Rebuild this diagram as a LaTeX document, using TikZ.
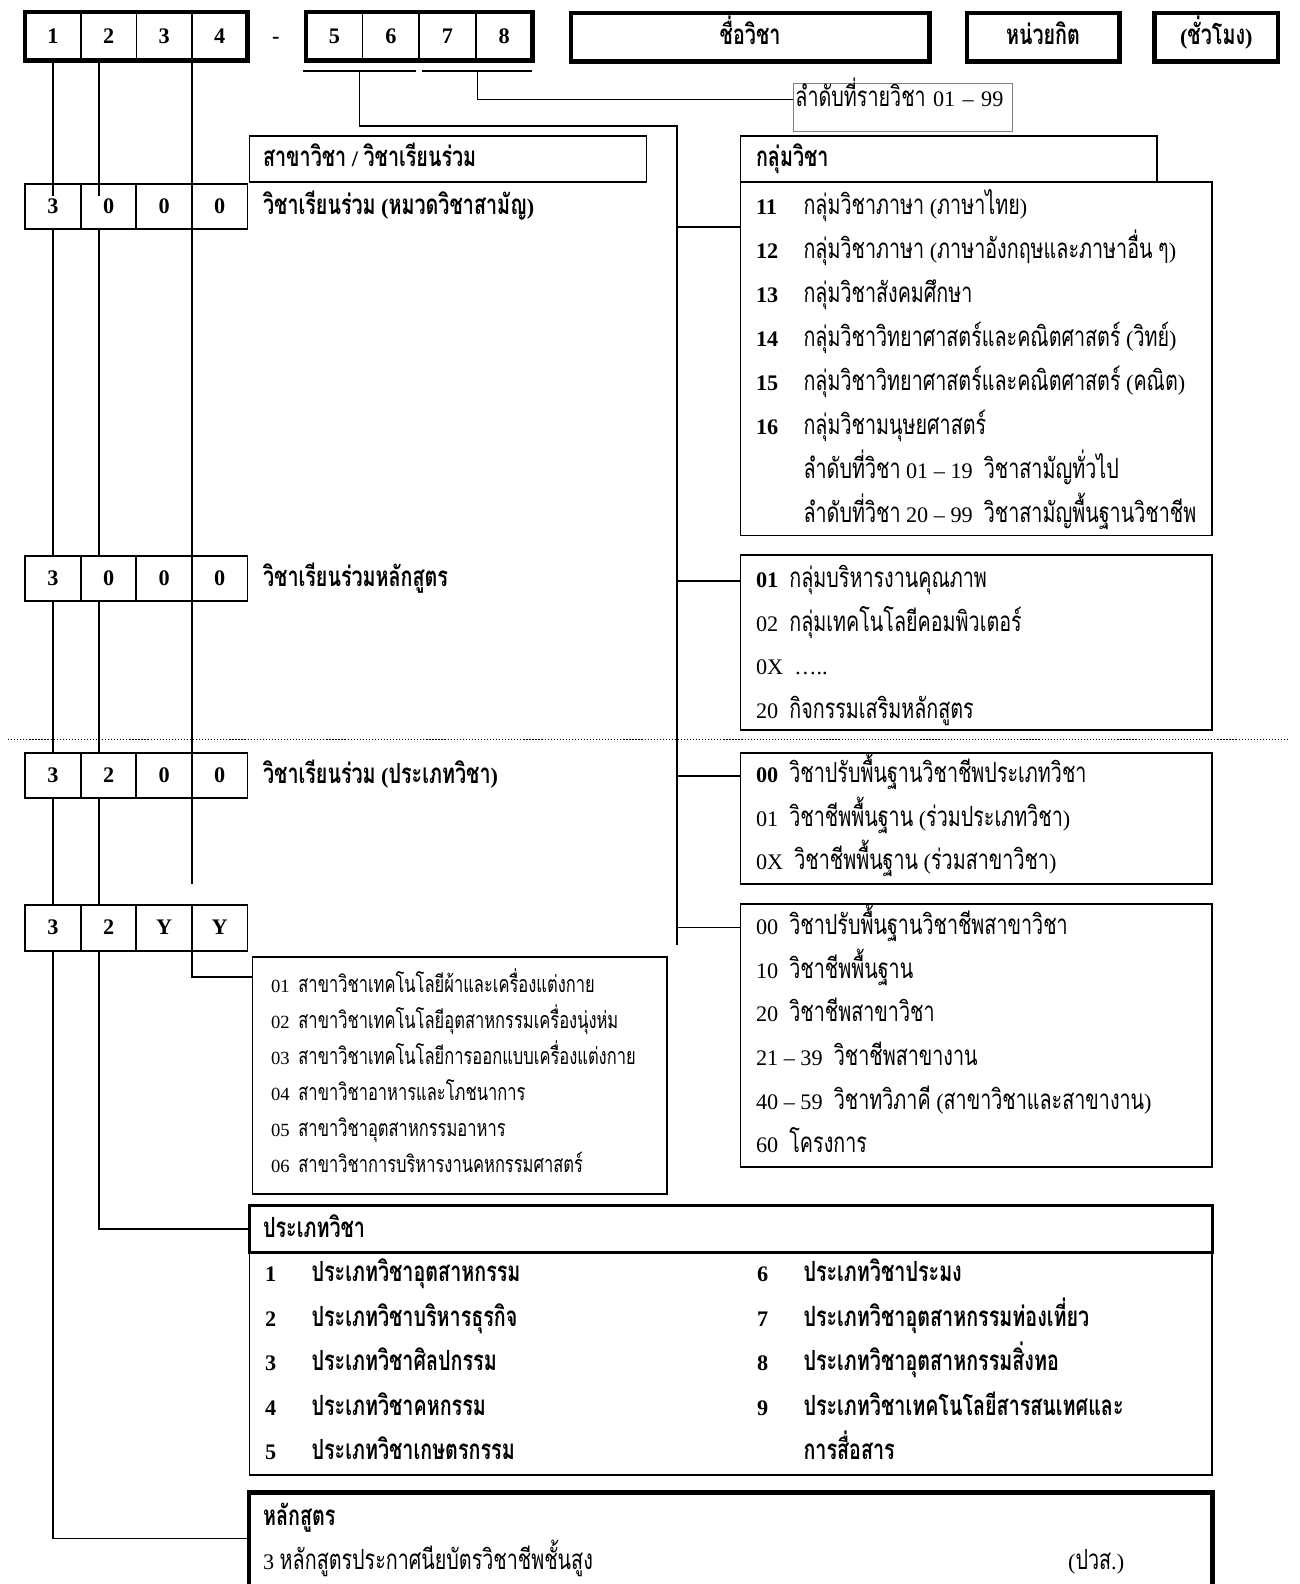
\documentclass[tikz,border=0pt]{standalone}
\usepackage{fontspec}
\setmainfont{Liberation Serif}
\newfontfamily\thaifont[Script=Thai,Scale=1.25,FakeStretch=0.71]{Loma}
\usetikzlibrary{fit}
% Thai runs go to Loma, digits and brackets stay in the serif
\XeTeXinterchartokenstate=1
\newXeTeXintercharclass\thaicls
\count255="0E00
\loop\ifnum\count255<"0E80
  \XeTeXcharclass\count255=\thaicls
  \advance\count255 by 1
\repeat
\XeTeXinterchartoks 0 \thaicls = {\thaifont}
\XeTeXinterchartoks 4095 \thaicls = {\thaifont}
\XeTeXinterchartoks \thaicls 0 = {\rmfamily}
\XeTeXinterchartoks \thaicls 4095 = {\rmfamily}
\AtBeginDocument{\fontsize{11}{13}\selectfont}
\tikzset{heavy/.style={line width=2.2pt},
         lnk/.style={line width=0.8pt},
         sepline/.style={line width=0.6pt,dash pattern=on 0.6pt off 0.9pt}}
\tikzset{cell/.style={draw,line width=0.9pt,minimum width=27.5pt,minimum height=22.5pt,
                      inner sep=0pt,outer sep=0pt,font=\bfseries,text height=8pt,text depth=1pt},
         topcell/.style={cell,line width=0.8pt,minimum height=24pt},
         topbox/.style={draw,heavy,minimum height=24pt,inner sep=0pt,font=\bfseries,
                        text height=8pt,text depth=1pt},
         frame/.style={draw,line width=0.9pt,inner sep=0pt,outer sep=0pt},
         txt/.style={anchor=west,inner sep=0pt,text height=8pt,text depth=1pt},
         small/.style={txt,font=\fontsize{9.2}{10.5}\selectfont}}
\begin{document}
\begin{tikzpicture}[x=0.5pt,y=-0.5pt]
    \useasboundingbox (0,0) rectangle (1286,1568);
    % code digits
    \foreach \d [count=\i] in {1,2,3,4}
      \node[topcell] (t\i) at ({55*\i-2.5},36) {\d};
    \foreach \d [count=\i from 5] in {5,6,7,8}
      \node[topcell,minimum width=28pt] (t\i) at ({56*\i+51},36) {\d};
    \draw[heavy] (t1.north west) rectangle (t4.south east);
    \draw[heavy] (t5.north west) rectangle (t8.south east);
    \node[font=\bfseries,text height=8pt,text depth=1pt] (dash) at (273,36) {-};
    \node[topbox,minimum width=177.5pt] (name) at (742.5,37) {ชื่อวิชา};
    \node[topbox,minimum width=75.5pt] (credit) at (1032.5,37) {หน่วยกิต};
    \node[topbox,minimum width=61pt] (hours) at (1204,37) {(ชั่วโมง)};
    \draw[lnk] ([xshift=-1.5pt,yshift=-5pt]t5.south west) -- coordinate (u56) ([xshift=-1.5pt,yshift=-5pt]t6.south east);
    \draw[lnk] ([xshift=1.5pt,yshift=-5pt]t7.south west) -- coordinate (u78) ([yshift=-5pt]t8.south east);
    \node[draw=gray,line width=0.4pt,anchor=north west,inner sep=1pt,text width=106.5pt,
          text height=10.5pt,text depth=11.5pt] (lbl) at (785,82) {\mbox{ลำดับที่รายวิชา 01 – 99}};

    % left column of sample codes
    \foreach \d [count=\i] in {3,0,0,0} \node[cell] (a\i) at ({55*\i-2.5},204.5) {\d};
    \foreach \d [count=\i] in {3,0,0,0} \node[cell] (b\i) at ({55*\i-2.5},572.5) {\d};
    \foreach \d [count=\i] in {3,2,0,0} \node[cell] (c\i) at ({55*\i-2.5},767.5) {\d};
    \foreach \d [count=\i] in {3,2,Y,Y} \node[cell] (d\i) at ({55*\i-2.5},918.5) {\d};
    \node[txt,font=\bfseries] (ra) at (260,205) {วิชาเรียนร่วม (หมวดวิชาสามัญ)};
    \node[txt,font=\bfseries] (rb) at (260,574) {วิชาเรียนร่วมหลักสูตร};
    \node[txt,font=\bfseries] (rc) at (260,769) {วิชาเรียนร่วม (ประเภทวิชา)};

    % frames
    \node[frame,fit={(247,135) (640,180)}] (hdrS) {};
    \node[frame,fit={(733,135) (1145,180)}] (hdrG) {};
    \node[frame,fit={(733,180) (1200,530)}] (lstA) {};
    \node[frame,fit={(733,549) (1200,723)}] (lstB) {};
    \node[frame,fit={(733,745) (1200,875)}] (lstC) {};
    \node[frame,fit={(733,895) (1200,1155)}] (lstD) {};
    \node[frame,fit={(250,947) (660,1182)}] (lstE) {};
    \node[frame,line width=1.4pt,fit={(247,1193) (1200,1240)}] (typeHd) {};
    \node[frame,fit={(247,1240) (1200,1460)}] (typeLst) {};
    \node[inner sep=0pt,fit={(247,1478) (1200,1568)}] (prog) {};
    \draw[heavy] (prog.south west) |- (prog.north east) -- (prog.south east);   % open at the foot
    \node[txt,font=\bfseries] (hdrSt) at (260,158) {สาขาวิชา / วิชาเรียนร่วม};
    \node[txt,font=\bfseries] (hdrGt) at (748,158) {กลุ่มวิชา};

    % subject groups
    \foreach \n/\t [count=\i] in {11/กลุ่มวิชาภาษา (ภาษาไทย), 12/กลุ่มวิชาภาษา (ภาษาอังกฤษและภาษาอื่น ๆ),
        13/กลุ่มวิชาสังคมศึกษา, 14/กลุ่มวิชาวิทยาศาสตร์และคณิตศาสตร์ (วิทย์),
        15/กลุ่มวิชาวิทยาศาสตร์และคณิตศาสตร์ (คณิต), 16/กลุ่มวิชามนุษยศาสตร์} {
      \node[txt,font=\bfseries] (gn\i) at (748,{205+43.6*(\i-1)}) {\n};
      \node[txt] (gt\i) at (795,{205+43.6*(\i-1)}) {\t};
    }
    \node[txt] (gt7) at (795,466.6) {ลำดับที่วิชา 01 – 19\enspace วิชาสามัญทั่วไป};
    \node[txt] (gt8) at (795,510.2) {ลำดับที่วิชา 20 – 99\enspace วิชาสามัญพื้นฐานวิชาชีพ};
    \foreach \t [count=\i] in {\textbf{01}\enspace กลุ่มบริหารงานคุณภาพ, 02\enspace กลุ่มเทคโนโลยีคอมพิวเตอร์,
        0X\enspace ….., 20\enspace กิจกรรมเสริมหลักสูตร}
      \node[txt] (gb\i) at (748,{575+43*(\i-1)}) {\t};
    \foreach \t [count=\i] in {\textbf{00}\enspace วิชาปรับพื้นฐานวิชาชีพประเภทวิชา,
        01\enspace วิชาชีพพื้นฐาน (ร่วมประเภทวิชา), 0X\enspace วิชาชีพพื้นฐาน (ร่วมสาขาวิชา)}
      \node[txt] (gc\i) at (748,{768+43*(\i-1)}) {\t};
    \foreach \t [count=\i] in {00\enspace วิชาปรับพื้นฐานวิชาชีพสาขาวิชา, 10\enspace วิชาชีพพื้นฐาน,
        20\enspace วิชาชีพสาขาวิชา, 21 – 39\enspace วิชาชีพสาขางาน,
        40 – 59\enspace วิชาทวิภาคี (สาขาวิชาและสาขางาน), 60\enspace โครงการ}
      \node[txt] (gd\i) at (748,{918+43.2*(\i-1)}) {\t};

    % majors
    \foreach \t [count=\i] in {สาขาวิชาเทคโนโลยีผ้าและเครื่องแต่งกาย, สาขาวิชาเทคโนโลยีอุตสาหกรรมเครื่องนุ่งห่ม,
        สาขาวิชาเทคโนโลยีการออกแบบเครื่องแต่งกาย, สาขาวิชาอาหารและโภชนาการ,
        สาขาวิชาอุตสาหกรรมอาหาร, สาขาวิชาการบริหารงานคหกรรมศาสตร์} {
      \node[small] (en\i) at (268,{975+35.8*(\i-1)}) {0\i};
      \node[small] (et\i) at (295,{975+35.8*(\i-1)}) {\t};
    }

    % fields of study
    \node[txt,font=\bfseries] (typeHdT) at (260,1218) {ประเภทวิชา};
    \foreach \t [count=\i] in {ประเภทวิชาอุตสาหกรรม, ประเภทวิชาบริหารธุรกิจ, ประเภทวิชาศิลปกรรม,
        ประเภทวิชาคหกรรม, ประเภทวิชาเกษตรกรรม} {
      \node[txt,font=\bfseries] (pn\i) at (262,{1262+44*(\i-1)}) {\i};
      \node[txt,font=\bfseries] (pt\i) at (308,{1262+44*(\i-1)}) {\t};
    }
    \foreach \t [count=\i from 6] in {ประเภทวิชาประมง, ประเภทวิชาอุตสาหกรรมท่องเที่ยว,
        ประเภทวิชาอุตสาหกรรมสิ่งทอ, ประเภทวิชาเทคโนโลยีสารสนเทศและ} {
      \node[txt,font=\bfseries] (pn\i) at (749,{1262+44*(\i-6)}) {\i};
      \node[txt,font=\bfseries] (pt\i) at (795,{1262+44*(\i-6)}) {\t};
    }
    \node[txt,font=\bfseries] (pt10) at (795,1438) {การสื่อสาร};

    % programme
    \node[txt,font=\bfseries] (progHd) at (260,1503) {หลักสูตร};
    \node[txt] (progT) at (260,1547) {3 หลักสูตรประกาศนียบัตรวิชาชีพชั้นสูง};
    \node[txt] (progAb) at (1057,1547) {(ปวส.)};

    \draw[sepline] (8,732) -- (1275,732);

    % connectors
    \draw[lnk] (t1.south) -- ([yshift=-6pt]a1.north);
    \draw[lnk] ([xshift=9pt]t2.south west) -- ([xshift=9pt,yshift=-6pt]a2.north west);
    \draw[lnk] (t3.south east) -- ([yshift=-6pt]a3.north east);
    \foreach \u/\v in {a/b,b/c,c/d} {
      \draw[lnk] (\u1.south) -- (\v1.north);
      \draw[lnk] ([xshift=9pt]\u2.south west) -- ([xshift=9pt]\v2.north west);
    }
    \foreach \u/\v in {a/b,b/c} \draw[lnk] (\u3.south east) -- (\v3.north east);
    \coordinate (c3end) at (190,875);
    \draw[lnk] (c3.south east) -- (c3.south east |- c3end);
    \draw[lnk] (d1.south) |- (prog.west);
    \draw[lnk] ([xshift=9pt]d2.south west) |- (typeHd.west);
    \draw[lnk] (d3.south east) |- ([yshift=-10pt]lstE.north west);
    \draw[lnk] (u78) |- ([yshift=4pt]lbl.west);
    \coordinate (bus) at (670,125);
    \draw[lnk] (u56) |- (bus) -- ([yshift=-20pt]bus |- lstD.north);
    \foreach \b/\s in {lstA/22.5pt,lstB/13pt,lstC/11.5pt,lstD/11.5pt}
      \draw[lnk] ([yshift=-\s]\b.north west) -- ([yshift=-\s]\b.north west -| bus);
\end{tikzpicture}
\end{document}
